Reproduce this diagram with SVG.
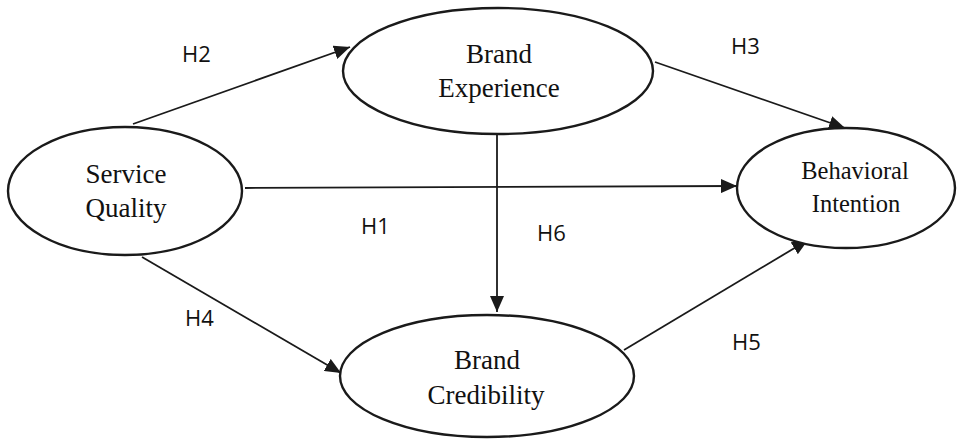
<svg xmlns="http://www.w3.org/2000/svg" width="962" height="439" viewBox="0 0 962 439">
  <style>
    .node ellipse { fill: #ffffff; stroke: #1a1a1a; stroke-width: 2.4; }
    .node text { font-family: "Liberation Serif", "Times New Roman", serif; font-size: 27px; fill: #111111; text-anchor: middle; }
    .edge { stroke: #1a1a1a; stroke-width: 1.8; fill: none; marker-end: url(#arrow); }
    .label { font-family: "Open Sans", "Liberation Sans", Arial, sans-serif; font-size: 22px; fill: #111111; }
  </style>
  <defs>
    <marker id="arrow" markerUnits="userSpaceOnUse" markerWidth="16" markerHeight="14" viewBox="0 0 16 14" refX="16" refY="7" orient="auto">
      <path d="M0,0 L16,7 L0,14 Z" fill="#1a1a1a"/>
    </marker>
  </defs>

  <!-- connectors -->
  <g id="connectors">
    <line class="edge" x1="133" y1="124" x2="350" y2="47"/>
    <line class="edge" x1="655" y1="62" x2="845" y2="128"/>
    <line class="edge" x1="245" y1="188" x2="737" y2="186"/>
    <line class="edge" x1="497" y1="134" x2="497" y2="312"/>
    <line class="edge" x1="142" y1="257" x2="341" y2="373"/>
    <line class="edge" x1="624" y1="350" x2="808" y2="240"/>
  </g>

  <!-- nodes -->
  <g id="service-quality" class="node">
    <ellipse cx="125" cy="191" rx="117" ry="64"/>
    <text x="126" y="183">Service</text>
    <text x="126" y="217">Quality</text>
  </g>
  <g id="brand-experience" class="node">
    <ellipse cx="498" cy="71" rx="155" ry="63"/>
    <text x="499" y="63">Brand</text>
    <text x="499" y="97">Experience</text>
  </g>
  <g id="behavioral-intention" class="node">
    <ellipse cx="846" cy="188" rx="109" ry="60"/>
    <text x="855" y="179" style="font-size:24.5px">Behavioral</text>
    <text x="856" y="212" style="font-size:24.5px">Intention</text>
  </g>
  <g id="brand-credibility" class="node">
    <ellipse cx="487" cy="376" rx="147" ry="61"/>
    <text x="487" y="369">Brand</text>
    <text x="486" y="404">Credibility</text>
  </g>

  <!-- hypothesis labels -->
  <g id="labels">
    <text class="label" x="182" y="62">H2</text>
    <text class="label" x="731" y="54">H3</text>
    <text class="label" x="361" y="234">H1</text>
    <text class="label" x="537" y="241">H6</text>
    <text class="label" x="185" y="326">H4</text>
    <text class="label" x="732" y="350">H5</text>
  </g>
</svg>
